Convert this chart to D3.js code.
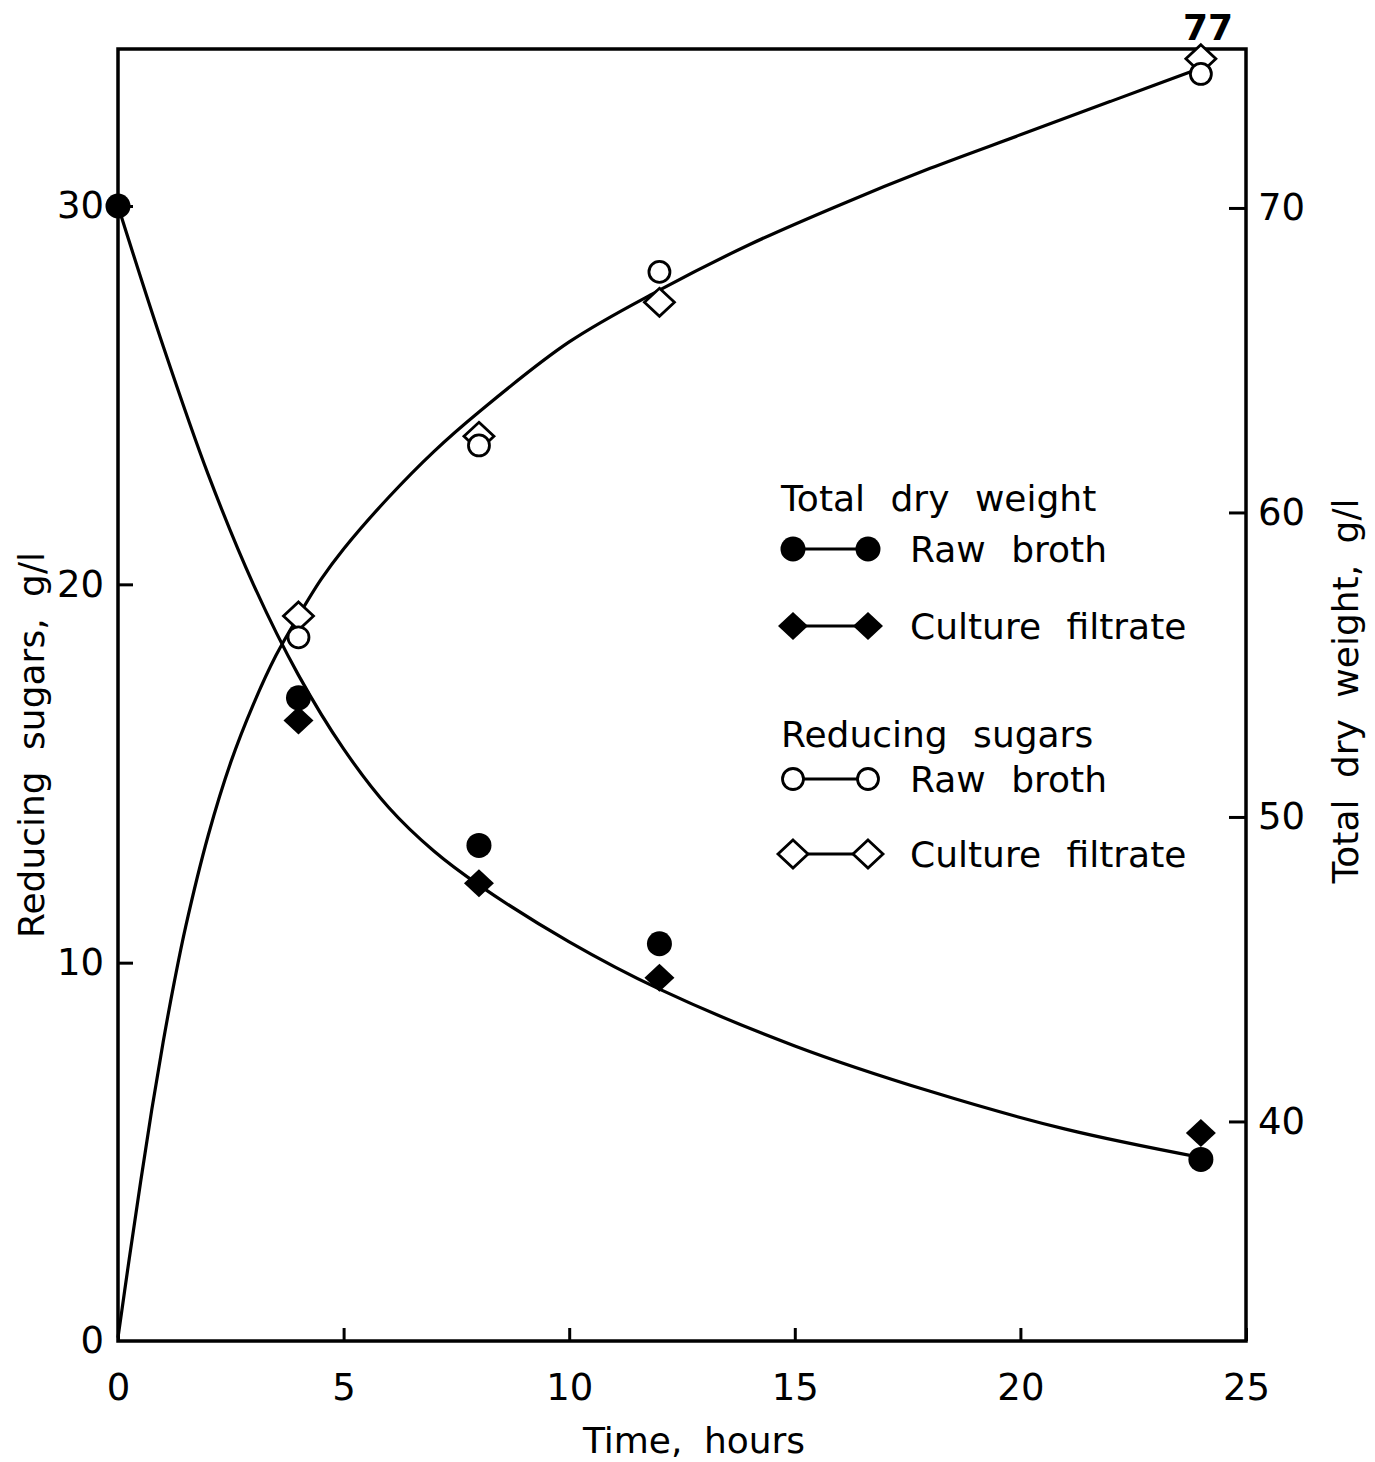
<!DOCTYPE html>
<html>
<head>
<meta charset="utf-8">
<script src="https://cdn.jsdelivr.net/npm/d3@7"></script>
<style>
  body { margin: 0; background: #fff; }
  text { font-family: "DejaVu Sans", sans-serif; fill: #000; }
</style>
</head>
<body>
<div class="chart"></div>
<script>
// values
var xTicks = [0, 5, 10, 15, 20, 25];
var leftTicks = [0, 10, 20, 30];
var rightTicks = [40, 50, 60, 70];

// filled markers (read on the left axis)
var filledBrothHours = [0, 4, 8, 12, 24];
var filledBroth = [30.0, 17.0, 13.1, 10.5, 4.8];
var filledFiltrateHours = [4, 8, 12, 24];
var filledFiltrate = [16.4, 12.1, 9.6, 5.5];

// open markers (read on the right axis)
var openHours = [4, 8, 12, 24];
var openBroth = [55.9, 62.2, 67.9, 74.4];
var openFiltrate = [56.6, 62.5, 66.9, 74.9];

// hand-drawn fitted curves
var fallHours = [0, 1, 2, 3, 4, 5, 6, 7, 8, 10, 12, 15, 18, 21, 24];
var fallCurve = [30, 26.3, 22.9, 20.0, 17.6, 15.65, 14.1, 12.95, 12.05, 10.55, 9.3, 7.8, 6.6, 5.6, 4.85];
var riseHours = [0, 0.25, 0.5, 0.75, 1, 1.25, 1.5, 2, 2.5, 3, 3.5, 4, 4.5, 5, 6, 7, 8, 10, 12, 14, 16, 18, 20, 22, 24];
var riseCurve = [32.9, 35.5, 38.0, 40.4, 42.6, 44.6, 46.4, 49.4, 51.8, 53.7, 55.3, 56.6, 57.8, 58.8, 60.5, 62.0, 63.3, 65.6, 67.3, 68.8, 70.1, 71.3, 72.4, 73.5, 74.6];

var svgWidth = 1375;
var svgHeight = 1462;
var margin = { top: 49, right: 129, bottom: 121, left: 118 };
var width = svgWidth - margin.left - margin.right;
var height = svgHeight - margin.top - margin.bottom;

var svg = d3.select(".chart")
  .append("svg")
    .attr("width", svgWidth)
    .attr("height", svgHeight)
  .append("g")
    .attr("transform", "translate(" + margin.left + "," + margin.top + ")");

var x = d3.scaleLinear().domain([0, 25]).range([0, width]);
var yLeft = d3.scaleLinear().domain([0, 34.15]).range([height, 0]);
var yRight = d3.scaleLinear().domain([32.79, 75.22]).range([height, 0]);

// axes, ticks pointing inward
var bottomAxis = d3.axisBottom(x).tickValues(xTicks).tickSizeInner(-13).tickSizeOuter(0).tickPadding(33);
var leftAxis = d3.axisLeft(yLeft).tickValues(leftTicks).tickSizeInner(-15).tickSizeOuter(0).tickPadding(14);
var rightAxis = d3.axisRight(yRight).tickValues(rightTicks).tickSizeInner(-17).tickSizeOuter(0).tickPadding(12);

function styleAxis(g) {
  g.select(".domain").remove();
  g.selectAll(".tick line").attr("stroke", "#000").attr("stroke-width", 3);
  g.selectAll(".tick text")
    .attr("font-family", "DejaVu Sans, sans-serif")
    .attr("font-size", 37)
    .attr("fill", "#000");
}

svg.append("g")
  .attr("transform", "translate(0," + height + ")")
  .call(bottomAxis)
  .call(styleAxis);

svg.append("g")
  .call(leftAxis)
  .call(styleAxis)
  .selectAll(".tick")
  .filter(function(d) { return d === 0; })
  .select("line").remove();

svg.append("g")
  .attr("transform", "translate(" + width + ",0)")
  .call(rightAxis)
  .call(styleAxis);

// frame
svg.append("rect")
  .attr("width", width)
  .attr("height", height)
  .attr("fill", "none")
  .attr("stroke", "#000")
  .attr("stroke-width", 3.5);

// curves
var fallLine = d3.line()
  .x(function(d, i) { return x(fallHours[i]); })
  .y(function(d) { return yLeft(d); })
  .curve(d3.curveCatmullRom);

var riseLine = d3.line()
  .x(function(d, i) { return x(riseHours[i]); })
  .y(function(d) { return yRight(d); })
  .curve(d3.curveCatmullRom);

svg.append("path")
  .datum(fallCurve)
  .attr("d", fallLine)
  .attr("fill", "none")
  .attr("stroke", "#000")
  .attr("stroke-width", 3.2);

svg.append("path")
  .datum(riseCurve)
  .attr("d", riseLine)
  .attr("fill", "none")
  .attr("stroke", "#000")
  .attr("stroke-width", 3.2);

var diamond = "M0,-14L15,0L0,14L-15,0Z";

function drawCircles(hours, values, scale, filled) {
  svg.append("g").selectAll("circle")
    .data(values)
    .enter().append("circle")
      .attr("cx", function(d, i) { return x(hours[i]); })
      .attr("cy", function(d) { return scale(d); })
      .attr("r", filled ? 12.5 : 10.5)
      .attr("fill", filled ? "#000" : "#fff")
      .attr("stroke", "#000")
      .attr("stroke-width", filled ? 0 : 2.8);
}

function drawDiamonds(hours, values, scale, filled) {
  svg.append("g").selectAll("path")
    .data(values)
    .enter().append("path")
      .attr("d", diamond)
      .attr("transform", function(d, i) {
        return "translate(" + x(hours[i]) + "," + scale(d) + ")";
      })
      .attr("fill", filled ? "#000" : "#fff")
      .attr("stroke", "#000")
      .attr("stroke-width", filled ? 0 : 2.8);
}

drawDiamonds(openHours, openFiltrate, yRight, false);
drawCircles(openHours, openBroth, yRight, false);
drawCircles(filledBrothHours, filledBroth, yLeft, true);
drawDiamonds(filledFiltrateHours, filledFiltrate, yLeft, true);

// axis titles
var root = d3.select("svg");

root.append("text")
  .attr("x", 694)
  .attr("y", 1453)
  .attr("text-anchor", "middle")
  .attr("font-size", 36)
  .attr("word-spacing", 10)
  .text("Time, hours");

root.append("text")
  .attr("transform", "translate(44,745) rotate(-90)")
  .attr("text-anchor", "middle")
  .attr("font-size", 36)
  .attr("word-spacing", 10)
  .text("Reducing sugars, g/l");

root.append("text")
  .attr("transform", "translate(1358,691) rotate(-90)")
  .attr("text-anchor", "middle")
  .attr("font-size", 36)
  .attr("word-spacing", 10)
  .text("Total dry weight, g/l");

root.append("text")
  .attr("x", 1208)
  .attr("y", 40)
  .attr("text-anchor", "middle")
  .attr("font-size", 36)
  .attr("font-weight", "bold")
  .text("77");

// legend
var legend = root.append("g");

function legendText(tx, ty, label) {
  legend.append("text")
    .attr("x", tx)
    .attr("y", ty)
    .attr("font-size", 36)
    .attr("word-spacing", 14)
    .text(label);
}

function legendRow(cy, shape, filled, label) {
  legend.append("line")
    .attr("x1", 793).attr("x2", 868)
    .attr("y1", cy).attr("y2", cy)
    .attr("stroke", "#000")
    .attr("stroke-width", 2.8);
  [793, 868].forEach(function(cx) {
    if (shape === "circle") {
      legend.append("circle")
        .attr("cx", cx).attr("cy", cy)
        .attr("r", filled ? 12.5 : 10.5)
        .attr("fill", filled ? "#000" : "#fff")
        .attr("stroke", "#000")
        .attr("stroke-width", filled ? 0 : 2.8);
    } else {
      legend.append("path")
        .attr("d", diamond)
        .attr("transform", "translate(" + cx + "," + cy + ")")
        .attr("fill", filled ? "#000" : "#fff")
        .attr("stroke", "#000")
        .attr("stroke-width", filled ? 0 : 2.8);
    }
  });
  legendText(910, cy + 13, label);
}

legendText(781, 511, "Total dry weight");
legendRow(549, "circle", true, "Raw broth");
legendRow(626, "diamond", true, "Culture filtrate");
legendText(781, 747, "Reducing sugars");
legendRow(779, "circle", false, "Raw broth");
legendRow(854, "diamond", false, "Culture filtrate");
</script>
</body>
</html>
